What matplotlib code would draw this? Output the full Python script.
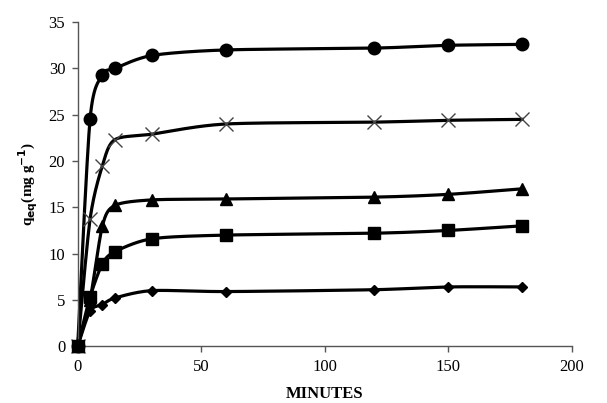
import numpy as np
import matplotlib
matplotlib.use("Agg")
import matplotlib.pyplot as plt

plt.rcParams['font.family'] = ['Liberation Serif', 'DejaVu Serif']

# sampling times (minutes)
minutes = [0, 5, 10, 15, 30, 60, 120, 150, 180]

# uptake for each series (mg/g)
q_circle = [0, 24.5, 29.3, 30.0, 31.4, 32.0, 32.2, 32.5, 32.6]
q_cross = [0, 13.7, 19.5, 22.3, 22.9, 24.0, 24.2, 24.4, 24.5]
q_triangle = [0, 5.0, 13.0, 15.2, 15.8, 15.9, 16.1, 16.4, 17.0]
q_square = [0, 5.3, 8.9, 10.2, 11.6, 12.0, 12.2, 12.5, 13.0]
q_diamond = [0, 3.8, 4.5, 5.2, 6.0, 5.9, 6.1, 6.4, 6.4]


def smooth_curve(x, y, n=30, tension=0.4):
    """Cardinal spline through the points, like a spreadsheet smoothed line."""
    x = np.asarray(x, float)
    y = np.asarray(y, float)
    px = np.concatenate([[x[0]], x, [x[-1]]])
    py = np.concatenate([[y[0]], y, [y[-1]]])
    xs, ys = [], []
    for i in range(1, len(px) - 2):
        p0, p1, p2, p3 = (np.array([px[j], py[j]]) for j in range(i - 1, i + 3))
        c1 = p1 + tension * (p2 - p0) / 3
        c2 = p2 - tension * (p3 - p1) / 3
        t = np.linspace(0, 1, n)[:, None]
        pts = ((1 - t) ** 3) * p1 + 3 * ((1 - t) ** 2) * t * c1 + 3 * (1 - t) * t ** 2 * c2 + t ** 3 * p2
        xs.append(pts[:, 0])
        ys.append(pts[:, 1])
    return np.concatenate(xs), np.concatenate(ys)


fig = plt.figure(figsize=(6.07, 4.03), dpi=100)
ax = fig.add_axes([0.128, 0.141, 0.814, 0.804])

series = [
    (q_circle, dict(marker='o', markersize=9, color='black')),
    (q_cross, dict(marker='x', markersize=10, color='black', markeredgecolor='#444444', markeredgewidth=1.0)),
    (q_triangle, dict(marker='^', markersize=8, color='black')),
    (q_square, dict(marker='s', markersize=8, color='black')),
    (q_diamond, dict(marker='D', markersize=5.5, color='black')),
]

for q, style in series:
    sx, sy = smooth_curve(minutes, q)
    ax.plot(sx, sy, color='black', linewidth=2.3, zorder=2, clip_on=False)
    ax.plot(minutes, q, linestyle='none', zorder=3, clip_on=False, **style)

ax.set_xlim(0, 200)
ax.set_ylim(0, 35)
ax.set_xticks([0, 50, 100, 150, 200])
ax.set_yticks(range(0, 36, 5))
for side in ('top', 'right'):
    ax.spines[side].set_visible(False)
for side in ('left', 'bottom'):
    ax.spines[side].set_color('#555555')
    ax.spines[side].set_linewidth(1.0)
ax.tick_params(direction='out', length=4, width=1, color='#555555', labelsize=12, pad=5)

ax.set_xlabel('MINUTES', fontsize=12, fontweight='bold', labelpad=8)
ax.set_ylabel(r'q$_{\mathbf{eq}}$(mg g$^{\mathbf{-1}}$)', fontsize=11, fontweight='bold', labelpad=6)

fig.savefig('out.png', dpi=100)
